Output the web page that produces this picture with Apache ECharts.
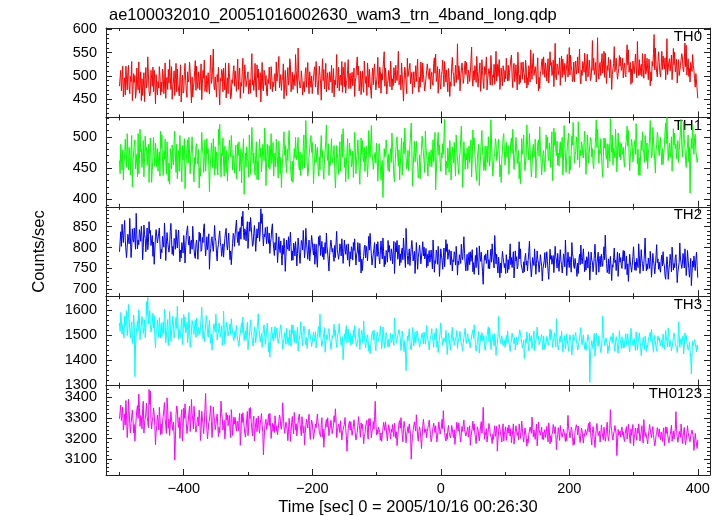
<!DOCTYPE html>
<html><head><meta charset="utf-8">
<script src="https://cdn.jsdelivr.net/npm/echarts@6/dist/echarts.min.js"></script>
<style>html,body{margin:0;padding:0;background:#fff}#c{width:724px;height:516px}</style>
</head><body><div id="c"></div><script>
const TITLE = 'ae100032010_20051016002630_wam3_trn_4band_long.qdp';
const X_NAME = 'Time [sec] 0 = 2005/10/16 00:26:30';
const Y_NAME = 'Counts/sec';
const BANDS = ['TH0', 'TH1', 'TH2', 'TH3', 'TH0123'];
const T_START = -500, T_STEP = 1;

const th0 = [
478,497,512,468,490,521,455,483,496,459,521,492,470,508,523,476,462,499,488,531,447,471,505,486,501,452,465,517,484,470,530,463,482,509,447,494,458,476,507,445,493,518,474,489,541,502,468,457,463,512,495,478,519,466,512,488,440,503,476,459,
488,474,520,501,459,487,466,515,503,462,481,528,452,490,497,471,514,485,535,499,471,520,450,477,489,511,458,493,527,466,515,482,480,457,496,524,444,481,502,463,468,509,527,491,468,454,509,487,493,530,510,472,442,498,455,476,486,512,533,469,
521,488,473,509,494,470,498,526,449,483,512,495,534,467,482,501,465,490,507,476,461,513,545,484,492,520,558,479,470,498,476,455,503,487,519,472,438,495,489,514,508,466,517,493,470,528,453,481,496,462,528,505,487,451,459,492,484,510,522,478,
511,489,467,504,536,471,499,517,452,486,478,509,538,463,486,524,503,477,474,498,509,461,457,492,463,513,548,481,491,469,490,527,476,455,524,496,515,470,482,507,444,488,529,474,468,512,507,480,501,464,457,493,484,519,493,472,520,498,466,487,
477,498,505,468,530,489,488,516,542,475,472,503,469,491,497,526,451,484,512,470,458,495,518,481,490,537,525,466,483,508,471,494,503,479,546,512,486,463,560,497,495,474,479,511,494,459,461,488,466,505,518,476,503,529,487,462,509,490,476,500,
462,485,496,513,520,476,531,499,475,460,492,521,500,483,448,506,537,490,514,472,489,527,466,495,507,478,470,509,512,487,523,464,494,516,455,491,481,503,546,474,488,519,468,497,502,480,531,465,519,501,477,529,463,485,491,512,535,473,498,506,
473,495,508,479,482,517,456,489,497,523,541,502,521,468,483,510,460,493,511,476,465,532,503,484,499,458,528,505,476,514,486,469,452,498,517,481,513,526,492,470,468,501,540,487,474,519,509,463,505,491,488,534,552,478,517,496,461,484,490,512,
498,477,532,503,470,494,479,518,507,485,523,496,490,514,553,481,486,502,470,528,502,474,446,491,519,507,484,462,538,499,495,517,527,483,479,508,462,490,509,476,497,522,488,513,536,479,465,497,476,530,514,487,528,503,499,468,471,495,511,526,
524,501,493,516,472,498,508,485,480,527,539,506,547,488,497,520,463,495,515,482,472,503,510,534,503,477,531,508,487,513,489,466,516,499,456,487,478,521,540,509,501,478,500,523,486,505,569,492,522,511,468,497,494,528,511,484,495,519,532,503,
529,505,483,512,506,488,507,534,562,495,478,511,491,522,514,486,542,509,476,497,501,528,467,490,535,512,488,473,520,503,519,541,470,494,497,516,506,481,544,513,480,502,497,525,482,508,553,489,525,499,503,535,471,486,517,498,479,522,509,487,
512,494,538,511,489,523,490,507,508,536,545,497,475,519,527,488,501,524,499,470,551,513,482,502,486,529,515,493,530,508,502,485,534,517,474,496,481,522,509,487,556,514,493,529,548,501,498,520,505,483,520,539,468,497,473,506,511,531,537,503,
541,519,497,528,516,489,518,537,485,508,552,523,529,501,506,534,477,512,570,498,492,526,521,503,513,539,480,515,543,497,536,514,503,527,488,509,524,546,498,517,561,502,545,521,511,488,494,530,487,516,532,504,515,541,506,523,558,496,483,512,
501,531,523,508,549,517,489,526,547,498,505,534,515,490,496,521,576,512,538,503,510,529,487,515,582,507,493,524,529,501,527,548,506,518,553,497,549,511,484,522,512,540,519,496,535,513,471,503,500,527,563,509,520,538,512,493,491,516,544,521,
540,512,517,538,496,519,528,503,498,541,567,524,556,508,511,529,482,515,486,532,533,505,523,547,519,496,574,520,501,535,502,518,525,499,548,516,495,527,547,504,510,538,514,492,536,517,479,509,489,531,521,548,589,513,560,525,507,498,530,552,
529,507,498,521,553,514,543,526,515,539,492,518,580,503,504,531,537,511,526,545,492,517,559,524,551,509,518,536,485,513,535,501,497,522,526,548,541,515,509,533,571,520,566,502,520,537,499,516,487,529,533,510,546,523,512,494,476,505,508,470,
452];

const th1 = [
462,441,488,465,447,479,431,458,470,496,493,452,505,474,447,483,471,439,479,502,420,461,458,487,495,449,458,472,436,505,441,463,512,476,480,451,466,494,436,468,501,477,483,455,452,488,427,464,498,471,427,446,466,499,469,453,490,474,452,481,
445,468,476,437,509,482,503,459,438,477,464,496,461,440,492,466,429,458,424,481,470,449,487,462,455,493,509,471,443,488,433,467,478,445,502,479,450,428,486,463,461,497,417,452,464,483,495,458,499,474,441,469,478,500,473,446,428,467,456,485,
489,462,456,480,418,451,437,472,507,485,471,443,468,495,445,466,497,473,481,454,412,448,466,490,474,451,497,469,439,484,449,476,463,439,512,487,520,466,436,474,470,498,458,437,485,463,443,478,429,460,471,495,493,468,502,481,447,470,465,442,
466,487,433,459,489,470,492,445,455,481,426,463,478,497,408,455,474,452,484,465,461,436,503,478,440,469,515,486,458,474,452,439,470,492,432,461,431,475,496,467,482,444,459,488,477,462,514,481,422,458,488,470,451,486,448,474,505,457,469,491,
437,463,474,452,496,478,458,434,493,470,441,467,419,450,466,489,508,471,486,457,443,480,462,495,510,476,454,438,429,461,427,458,481,466,499,472,463,487,499,453,447,476,438,465,472,449,485,503,450,474,526,488,460,437,444,469,468,492,502,475,
491,466,425,453,470,488,459,475,483,451,437,468,447,482,502,467,478,445,432,463,477,494,519,472,462,489,438,461,454,479,497,458,455,472,486,449,418,444,486,471,463,440,469,492,445,473,504,468,513,482,451,466,428,455,476,497,433,462,490,470,
480,452,458,477,435,469,507,481,441,463,474,495,470,447,424,458,498,472,494,466,460,483,445,470,485,461,436,457,510,478,467,490,518,474,463,448,449,471,475,458,490,467,429,452,489,476,452,431,456,462,403,445,481,468,472,495,497,463,446,472,
444,470,481,459,506,484,463,437,428,458,477,494,500,468,453,479,431,455,477,498,439,467,492,473,514,485,466,449,455,478,446,467,488,503,522,480,421,452,470,493,460,475,493,468,455,434,440,471,433,462,482,501,499,474,460,443,509,482,471,457,
437,468,476,453,451,479,452,470,495,460,483,507,415,442,468,490,507,471,487,458,445,474,466,489,472,499,528,464,439,461,450,482,466,443,494,476,431,457,484,469,458,491,459,437,503,478,476,452,440,468,474,497,517,480,419,456,492,469,448,473,
463,482,449,470,485,459,481,495,436,464,511,487,498,473,457,440,430,466,477,488,422,451,469,493,510,476,468,446,453,485,446,472,485,459,500,481,453,466,527,490,461,437,439,468,473,497,491,462,461,480,496,474,436,455,427,463,479,498,505,477,
455,476,491,467,464,486,440,462,470,492,498,474,512,481,448,466,475,499,483,457,459,478,433,460,425,454,497,472,480,503,466,446,443,471,519,488,479,463,505,482,457,436,452,478,488,467,472,496,434,459,471,490,495,469,516,484,461,439,442,473,
478,460,444,472,503,481,499,468,462,490,477,451,486,508,430,465,514,487,507,479,470,493,455,474,453,481,492,467,484,499,439,462,518,489,468,443,467,485,482,506,441,469,447,476,501,487,523,494,458,471,476,500,489,463,524,488,451,479,470,492,
487,470,466,491,509,477,440,463,503,485,458,474,472,499,495,468,481,456,449,476,480,501,527,483,512,489,458,479,473,497,474,452,436,467,498,482,497,470,465,489,450,478,488,461,529,494,475,503,455,482,477,466,512,487,444,470,506,481,468,491,
463,489,491,472,483,461,452,477,479,498,517,485,510,473,446,468,470,496,485,460,468,487,494,472,521,493,457,480,439,466,438,471,494,478,508,482,473,459,502,486,462,490,449,474,481,500,526,488,466,471,515,493,479,462,442,477,488,507,501,480,
470,485,499,476,455,481,456,474,483,508,522,489,531,496,462,480,490,467,477,500,445,472,513,487,506,481,488,465,467,494,459,478,492,511,528,490,468,485,524,497,483,462,451,477,485,503,460,483,410,469,497,481,519,494,472,499,504,478,476,459,
466];

const th2 = [
790,815,838,803,856,829,812,840,865,818,794,776,801,832,828,809,870,825,776,801,845,819,813,847,819,796,882,831,797,818,807,843,833,815,851,826,771,800,854,831,822,790,816,847,795,812,862,834,841,805,808,829,779,813,760,794,826,843,847,811,
812,834,847,809,773,796,788,827,823,801,859,825,769,808,836,814,801,789,804,838,858,819,784,803,781,822,817,796,843,815,799,826,842,801,766,794,775,812,811,787,829,806,763,800,829,842,852,818,806,827,785,813,818,796,851,821,797,779,774,809,
818,797,772,806,837,815,834,791,796,824,812,848,857,810,780,801,826,795,809,833,748,785,798,821,826,803,791,817,853,824,815,786,768,799,807,828,840,812,803,779,782,809,777,801,822,838,846,807,794,816,835,798,771,792,759,787,810,834,829,803,
831,849,866,827,812,838,805,841,848,820,874,852,887,836,819,845,839,816,843,862,798,824,861,839,872,850,826,803,808,834,853,827,791,818,845,823,838,861,815,837,893,858,881,829,804,832,826,848,829,809,850,822,810,835,786,812,822,846,857,817,
797,781,812,794,835,806,764,792,826,799,788,816,781,758,805,784,822,797,743,779,818,801,796,826,792,810,837,803,769,792,770,811,801,780,814,793,756,786,823,804,780,762,789,817,811,794,841,808,775,797,846,815,793,772,794,818,768,787,805,829,
815,793,782,809,760,784,808,771,753,797,826,805,829,781,796,815,778,801,771,792,812,786,835,802,787,766,744,782,803,818,820,789,798,776,767,805,776,812,839,795,794,772,785,809,802,780,821,797,762,788,818,799,784,807,791,770,809,783,755,790,
773,802,796,770,812,793,821,787,758,784,789,812,787,766,810,781,739,772,745,769,779,801,806,775,803,788,768,797,827,794,834,806,782,758,760,785,797,812,751,783,808,779,814,790,776,761,792,816,792,773,823,791,754,780,760,793,788,765,817,789,
805,778,769,797,786,761,791,815,738,774,812,790,817,772,783,806,757,785,764,792,799,771,823,796,775,752,846,803,781,760,781,797,757,778,799,817,796,768,770,791,738,772,812,784,748,776,790,806,788,761,765,793,814,780,801,773,779,798,752,784,
756,781,793,765,776,794,772,749,818,787,741,769,762,794,785,760,803,776,731,763,797,782,770,748,776,799,754,780,819,791,809,772,768,795,787,759,792,770,744,771,766,790,781,758,803,777,734,768,759,783,787,762,808,779,771,797,826,786,763,744,
766,784,745,770,788,759,790,767,771,795,742,764,736,760,781,752,800,777,758,735,804,780,767,789,764,743,712,756,781,770,785,762,773,794,750,771,749,778,796,765,809,783,768,751,829,791,761,784,757,739,777,758,728,763,739,768,791,776,774,752,
762,738,783,765,740,771,748,781,809,759,776,752,771,790,727,755,792,768,778,749,755,782,814,773,797,761,764,745,739,766,742,775,786,758,768,744,769,791,815,772,751,730,751,776,774,757,797,769,736,762,792,771,763,741,760,783,779,755,720,748,
745,769,788,752,771,790,767,743,724,758,796,772,781,760,756,781,740,768,803,778,770,751,786,764,743,771,795,768,759,739,758,785,776,754,818,779,733,761,789,764,752,778,764,741,812,785,777,755,750,774,772,749,731,763,738,770,784,759,806,776,
761,779,797,764,742,769,746,778,773,751,790,766,722,757,789,770,765,742,758,781,808,774,735,762,766,789,741,767,779,754,784,763,755,781,802,771,830,785,762,740,748,773,737,762,779,751,721,759,753,776,799,764,770,745,768,789,731,760,786,765,
776,757,750,775,793,768,792,748,763,780,735,761,719,752,784,766,768,741,757,779,802,771,746,765,745,774,771,752,809,780,738,763,795,770,762,744,760,787,823,772,744,761,748,775,775,750,791,766,729,755,786,769,758,737,754,781,807,764,773,748,
765,748,741,770,782,756,790,763,757,732,724,751,778,759,724,746,761,784,769,742,801,773,746,762,752,777,783,754,716,741,737,764,811,775,772,750,760,786,774,751,797,768,733,757,793,770,750,729,752,774,709,738,768,753,780,761,745,772,789,757,
728];

const th3 = [
1548,1515,1590,1553,1504,1542,1512,1489,1575,1536,1546,1597,1498,1524,1622,1563,1521,1488,1530,1552,1467,1509,1580,1540,1335,1462,1505,1531,1557,1518,1601,1572,1482,1520,1538,1574,1556,1507,1523,1561,1490,1531,1633,1579,1650,1545,1562,1597,1541,1512,1507,1546,1587,1529,1578,1494,1448,1508,1519,1560,
1526,1493,1569,1532,1488,1547,1495,1518,1552,1508,1603,1566,1470,1498,1531,1562,1459,1503,1594,1541,1476,1512,1537,1575,1544,1489,1510,1538,1571,1526,1615,1549,1485,1521,1524,1493,1537,1568,1463,1502,1582,1534,1572,1509,1519,1551,1470,1497,1590,1527,1452,1486,1513,1558,1546,1511,1503,1539,1560,1491,
1568,1524,1497,1532,1535,1503,1529,1568,1611,1546,1486,1515,1474,1507,1536,1578,1557,1510,1492,1533,1558,1496,1468,1505,1440,1489,1521,1546,1550,1512,1583,1535,1481,1502,1511,1548,1547,1494,1508,1537,1459,1487,1596,1528,1463,1512,1529,1551,1530,1497,1491,1524,1545,1503,1565,1532,1517,1488,1478,1514,
1487,1516,1539,1498,1501,1467,1455,1492,1506,1531,1549,1510,1572,1523,1478,1505,1516,1482,1520,1551,1442,1477,1493,1526,1561,1514,1497,1468,1457,1495,1533,1509,1468,1497,1524,1548,1585,1521,1502,1473,1474,1506,1451,1489,1527,1541,1496,1463,1489,1519,1548,1497,1433,1470,1413,1459,1514,1532,1486,1508,
1476,1503,1534,1489,1507,1529,1492,1468,1461,1497,1522,1541,1518,1486,1445,1472,1483,1510,1495,1463,1527,1498,1466,1490,1459,1521,1488,1456,1541,1507,1540,1494,1471,1518,1495,1467,1509,1532,1437,1474,1476,1502,1553,1515,1484,1458,1512,1536,1520,1483,1462,1491,1447,1479,1498,1524,1531,1496,1479,1455,
1470,1497,1512,1476,1488,1514,1449,1478,1495,1521,1534,1492,1583,1507,1478,1455,1456,1489,1507,1530,1432,1468,1501,1482,1493,1517,1526,1489,1474,1443,1465,1498,1488,1511,1543,1496,1519,1474,1451,1486,1490,1522,1546,1503,1480,1459,1462,1493,1402,1450,1504,1481,1517,1538,1470,1495,1525,1472,1484,1509,
1461,1487,1497,1466,1520,1491,1538,1502,1473,1455,1448,1481,1509,1527,1443,1470,1499,1519,1492,1468,1557,1506,1475,1449,1468,1493,1501,1479,1436,1462,1426,1458,1489,1507,1515,1481,1520,1494,1462,1438,1487,1512,1511,1477,1484,1503,1535,1496,1446,1473,1532,1505,1469,1448,1478,1510,1497,1468,1452,1484,
1455,1482,1508,1471,1479,1503,1482,1459,1567,1514,1493,1470,1469,1497,1493,1522,1528,1487,1439,1465,1516,1492,1460,1434,1478,1445,1359,1421,1496,1478,1503,1526,1471,1449,1441,1476,1530,1501,1457,1483,1512,1469,1491,1517,1524,1488,1473,1452,1447,1480,1486,1508,1501,1466,1512,1493,1464,1487,1538,1499,
1497,1468,1441,1479,1472,1503,1526,1487,1475,1451,1508,1482,1503,1527,1452,1476,1431,1466,1488,1512,1549,1497,1484,1460,1466,1489,1494,1472,1519,1486,1423,1458,1509,1491,1463,1440,1480,1503,1531,1476,1492,1461,1458,1485,1496,1518,1447,1472,1472,1497,1515,1479,1481,1456,1438,1467,1490,1508,1527,1482,
1467,1491,1505,1473,1485,1462,1449,1480,1486,1509,1521,1487,1541,1498,1462,1437,1444,1471,1493,1515,1428,1462,1499,1477,1510,1484,1476,1498,1460,1439,1458,1486,1497,1516,1533,1474,1528,1492,1444,1470,1478,1503,1482,1457,1506,1481,1420,1455,1463,1494,1574,1502,1489,1467,1471,1496,1489,1458,1455,1479,
1451,1477,1499,1468,1517,1485,1474,1451,1435,1463,1482,1508,1512,1479,1466,1490,1441,1472,1493,1461,1454,1487,1504,1521,1526,1488,1470,1449,1458,1481,1407,1446,1485,1470,1513,1489,1462,1438,1508,1475,1476,1498,1447,1469,1491,1517,1439,1467,1469,1494,1532,1486,1495,1462,1456,1478,1481,1502,1465,1441,
1496,1470,1443,1462,1471,1495,1487,1459,1468,1491,1525,1482,1519,1487,1451,1476,1488,1509,1480,1454,1565,1492,1457,1441,1463,1485,1497,1472,1516,1483,1432,1457,1476,1498,1446,1468,1504,1479,1458,1436,1479,1501,1489,1463,1421,1452,1502,1477,1473,1496,1511,1480,1463,1441,1449,1472,1486,1509,1530,1475,
1462,1487,1501,1464,1445,1471,1439,1458,1478,1502,1497,1469,1312,1421,1455,1478,1473,1446,1483,1507,1416,1451,1508,1481,1470,1456,1498,1475,1452,1431,1447,1483,1575,1497,1486,1459,1464,1489,1490,1465,1427,1456,1438,1474,1472,1495,1499,1470,1509,1482,1453,1436,1471,1494,1481,1458,1429,1462,1518,1484,
1469,1447,1494,1471,1448,1477,1451,1489,1506,1462,1483,1505,1475,1452,1433,1468,1527,1493,1487,1461,1462,1486,1459,1438,1513,1481,1441,1465,1490,1509,1478,1455,1418,1449,1466,1491,1466,1444,1496,1472,1435,1460,1450,1481,1483,1503,1511,1476,1522,1488,1457,1432,1478,1499,1474,1452,1437,1469,1497,1480,
1489,1467,1458,1482,1473,1451,1504,1478,1443,1465,1519,1490,1477,1453,1528,1495,1454,1479,1461,1437,1436,1468,1492,1509,1494,1466,1468,1447,1431,1459,1552,1503,1452,1476,1487,1462,1480,1497,1425,1456,1509,1482,1499,1471,1464,1440,1448,1473,1439,1410,1345,1428,1476,1459,1455,1482,1478,1452,1433,1461,
1442];

const th0123 = [
3296,3331,3362,3287,3318,3352,3241,3279,3318,3265,3384,3310,3205,3259,3390,3336,3271,3228,3273,3304,3337,3290,3226,3268,3188,3245,3301,3339,3359,3298,3415,3351,3259,3312,3302,3247,3346,3380,3227,3274,3281,3322,3372,3308,3282,3253,3437,3366,3430,3291,3246,3283,3305,3348,3319,3262,3170,3229,3263,3314,
3288,3242,3351,3303,3219,3270,3223,3281,3308,3339,3374,3296,3263,3225,3397,3342,3250,3294,3215,3263,3330,3287,3294,3240,3279,3221,3096,3197,3316,3358,3342,3276,3254,3302,3201,3259,3311,3340,3189,3246,3347,3298,3368,3315,3271,3225,3233,3284,3325,3357,3234,3278,3389,3319,3294,3247,3356,3302,3260,3231,
3249,3288,3305,3261,3337,3295,3191,3243,3332,3301,3268,3224,3276,3347,3418,3315,3244,3198,3238,3279,3290,3324,3359,3282,3205,3251,3353,3309,3286,3243,3267,3299,3318,3262,3210,3254,3228,3297,3381,3325,3297,3241,3260,3288,3199,3235,3325,3289,3314,3262,3279,3312,3242,3205,3340,3296,3215,3258,3303,3271,
3302,3259,3236,3284,3271,3238,3287,3322,3168,3217,3319,3278,3325,3289,3258,3226,3207,3249,3296,3331,3214,3255,3346,3297,3350,3282,3241,3213,3285,3308,3189,3237,3277,3298,3233,3268,3309,3252,3226,3274,3293,3321,3264,3230,3122,3196,3250,3281,3293,3244,3248,3286,3317,3263,3322,3279,3201,3245,3274,3236,
3268,3229,3310,3275,3236,3261,3219,3248,3283,3314,3302,3257,3245,3290,3373,3304,3260,3226,3231,3279,3265,3243,3190,3236,3298,3262,3187,3233,3279,3307,3254,3223,3326,3285,3241,3272,3213,3247,3280,3308,3318,3269,3242,3214,3306,3268,3227,3259,3170,3224,3261,3293,3295,3251,3290,3317,3228,3196,3256,3289,
3275,3239,3197,3226,3234,3271,3252,3289,3319,3277,3266,3231,3236,3210,3268,3301,3208,3246,3158,3212,3247,3274,3292,3255,3301,3263,3214,3241,3255,3288,3263,3224,3229,3262,3310,3279,3344,3291,3205,3237,3237,3270,3258,3229,3286,3244,3193,3228,3221,3259,3270,3302,3249,3213,3139,3195,3248,3272,3283,3241,
3282,3247,3216,3238,3258,3291,3257,3223,3193,3215,3231,3264,3306,3271,3239,3207,3276,3248,3269,3232,3175,3211,3222,3259,3251,3288,3228,3197,3296,3262,3297,3255,3204,3236,3249,3282,3245,3306,3380,3278,3218,3243,3222,3256,3263,3229,3192,3227,3187,3219,3246,3278,3274,3239,3281,3254,3215,3188,3240,3267,
3259,3224,3198,3245,3231,3268,3237,3210,3274,3241,3202,3233,3166,3209,3243,3276,3287,3250,3301,3262,3219,3184,3249,3283,3254,3227,3180,3216,3225,3258,3228,3271,3266,3218,3101,3175,3207,3239,3245,3281,3278,3236,3315,3264,3212,3188,3235,3257,3238,3201,3152,3211,3262,3293,3260,3229,3227,3246,3204,3234,
3243,3268,3289,3251,3220,3185,3201,3233,3236,3274,3267,3229,3262,3217,3184,3212,3246,3280,3251,3222,3217,3256,3293,3248,3335,3269,3230,3201,3188,3224,3196,3241,3264,3231,3238,3203,3221,3263,3248,3217,3205,3243,3172,3209,3240,3279,3271,3236,3276,3245,3209,3183,3227,3258,3235,3266,3290,3244,3247,3212,
3213,3239,3255,3208,3230,3262,3168,3205,3232,3251,3284,3240,3270,3227,3205,3176,3219,3257,3244,3213,3189,3226,3260,3282,3226,3249,3351,3265,3197,3229,3218,3248,3183,3214,3241,3273,3257,3224,3229,3199,3176,3221,3196,3238,3262,3211,3233,3259,3139,3192,3234,3268,3265,3227,3208,3183,3248,3271,3189,3220,
3224,3257,3191,3218,3252,3227,3266,3235,3212,3248,3180,3209,3240,3271,3173,3203,3236,3262,3253,3216,3230,3194,3271,3238,3201,3229,3285,3247,3210,3183,3216,3251,3245,3209,3163,3198,3180,3221,3227,3256,3258,3225,3304,3262,3209,3241,3232,3196,3236,3270,3165,3208,3280,3242,3250,3217,3221,3255,3197,3231,
3195,3228,3243,3206,3228,3259,3211,3184,3276,3237,3175,3214,3184,3219,3232,3268,3264,3225,3258,3220,3147,3198,3219,3253,3226,3191,3263,3234,3240,3207,3205,3246,3238,3213,3186,3224,3190,3257,3312,3248,3234,3203,3217,3255,3244,3211,3168,3202,3172,3236,3229,3267,3251,3218,3261,3229,3200,3181,3222,3250,
3236,3201,3178,3224,3211,3243,3249,3218,3214,3252,3273,3232,3281,3240,3199,3169,3229,3258,3226,3195,3157,3209,3245,3273,3240,3214,3208,3236,3183,3221,3266,3230,3222,3195,3255,3227,3187,3210,3253,3279,3214,3190,3215,3248,3340,3262,3238,3207,3193,3225,3235,3263,3261,3222,3118,3179,3244,3216,3207,3236,
3207,3240,3256,3218,3233,3199,3186,3224,3230,3258,3198,3227,3269,3236,3201,3177,3247,3215,3241,3268,3164,3203,3222,3251,3219,3192,3250,3226,3271,3237,3188,3214,3233,3262,3205,3178,3292,3244,3210,3229,3236,3197,3174,3212,3239,3268,3259,3221,3204,3236,3258,3219,3190,3165,3181,3214,3226,3253,3248,3209,
3247,3218,3195,3231,3220,3186,3229,3252,3166,3203,3257,3226,3254,3221,3212,3180,3183,3219,3238,3264,3187,3215,3236,3198,3221,3249,3330,3242,3209,3182,3203,3235,3244,3206,3270,3228,3176,3211,3231,3254,3193,3170,3198,3227,3262,3230,3228,3196,3185,3214,3213,3241,3246,3208,3143,3176,3225,3195,3188,3152,
3194];

const X_RANGE = [-521, 419];
const X_MAJOR = [-400, -200, 0, 200, 400];
const X_MINOR = [-500, -300, -100, 100, 300];
const Y_RANGES = [[411, 603], [388, 531], [683.5, 897.7], [1299, 1655], [3024, 3456]];
const Y_MAJOR = [[450, 500, 550, 600], [400, 450, 500], [700, 750, 800, 850], [1300, 1400, 1500, 1600], [3100, 3200, 3300, 3400]];
const Y_MINOR_STEP = [10, 10, 10, 20, 20];

const SERIES = [th0, th1, th2, th3, th0123];
const COLORS = ['#ff0000', '#00ff00', '#0000ff', '#00ffff', '#ff00ff'];

const FONT = '"Liberation Sans", Arial, Helvetica, sans-serif';
const LINE = '#222';
const TOP0 = 28, PH = 89.4;

function minorTicks(range, step, majors) {
  const out = [];
  for (let v = Math.ceil(range[0] / step) * step; v <= range[1]; v += step) {
    if (majors.indexOf(v) < 0) out.push(v);
  }
  return out;
}
const fmt = v => (v < 0 ? '\u2212' + (-v) : String(v));

const grids = [], xAxes = [], yAxes = [], series = [], graphics = [];
for (let g = 0; g < 5; g++) {
  const top = TOP0 + g * PH;
  const last = g === 4;
  grids.push({ left: 106, width: 604, top: top, height: PH, containLabel: false, outerBoundsMode: 'none' });

  const shownLine = { show: true, onZero: false, lineStyle: { color: LINE, width: 1 } };
  const hiddenLine = { show: false, onZero: false };
  const tk = (vals, len) => ({ show: true, inside: true, length: len, customValues: vals, lineStyle: { color: LINE, width: 1 } });

  const xb = { type: 'value', gridIndex: g, min: X_RANGE[0], max: X_RANGE[1], splitLine: { show: false }, axisLabel: { show: false } };
  xAxes.push(Object.assign({}, xb, { position: 'bottom', axisLine: shownLine, axisTick: tk(X_MAJOR, 6),
    axisLabel: last ? { show: true, customValues: X_MAJOR, formatter: fmt, fontSize: 14.5, color: '#000', fontFamily: FONT, margin: 6 } : { show: false },
    name: last ? X_NAME : '', nameLocation: 'middle', nameGap: 24,
    nameTextStyle: { fontSize: 16.5, color: '#000', fontFamily: FONT, verticalAlign: 'top' } }));
  xAxes.push(Object.assign({}, xb, { position: 'bottom', axisLine: hiddenLine, axisTick: tk(X_MINOR, 3) }));
  xAxes.push(Object.assign({}, xb, { position: 'top', axisLine: shownLine, axisTick: tk(X_MAJOR, 6) }));
  xAxes.push(Object.assign({}, xb, { position: 'top', axisLine: hiddenLine, axisTick: tk(X_MINOR, 3) }));

  const yr = Y_RANGES[g];
  const ymin = minorTicks(yr, Y_MINOR_STEP[g], Y_MAJOR[g]);
  const yb = { type: 'value', gridIndex: g, min: yr[0], max: yr[1], splitLine: { show: false }, axisLabel: { show: false } };
  yAxes.push(Object.assign({}, yb, { position: 'left', axisLine: shownLine, axisTick: tk(Y_MAJOR[g], 6),
    axisLabel: { show: true, customValues: Y_MAJOR[g], formatter: v => String(v), fontSize: 14.5, color: '#000', fontFamily: FONT, margin: 9 },
    name: g === 2 ? Y_NAME : '', nameLocation: 'middle', nameGap: 58,
    nameTextStyle: { fontSize: 16.5, color: '#000', fontFamily: FONT } }));
  yAxes.push(Object.assign({}, yb, { position: 'left', axisLine: hiddenLine, axisTick: tk(ymin, 3) }));
  yAxes.push(Object.assign({}, yb, { position: 'right', axisLine: shownLine, axisTick: tk(Y_MAJOR[g], 6) }));
  yAxes.push(Object.assign({}, yb, { position: 'right', axisLine: hiddenLine, axisTick: tk(ymin, 3) }));

  const vals = SERIES[g];
  series.push({ type: 'line', name: BANDS[g], xAxisIndex: 4 * g, yAxisIndex: 4 * g,
    data: vals.map((v, i) => [T_START + i * T_STEP, v]),
    showSymbol: false, symbol: 'none', silent: true, animation: false, clip: true,
    lineStyle: { width: 1, color: COLORS[g] }, itemStyle: { color: COLORS[g] } });

  graphics.push({ type: 'text', right: 22, top: top + 1,
    style: { text: BANDS[g], fill: '#000', font: '15px ' + FONT } });
}

const chart = echarts.init(document.getElementById('c'), null, { renderer: 'canvas' });
chart.setOption({
  backgroundColor: '#fff',
  animation: false,
  title: { text: TITLE, left: 104, top: 2, textStyle: { fontSize: 16.5, fontWeight: 'normal', color: '#000', fontFamily: FONT } },
  grid: grids, xAxis: xAxes, yAxis: yAxes, series: series, graphic: graphics
});
</script></body></html>
